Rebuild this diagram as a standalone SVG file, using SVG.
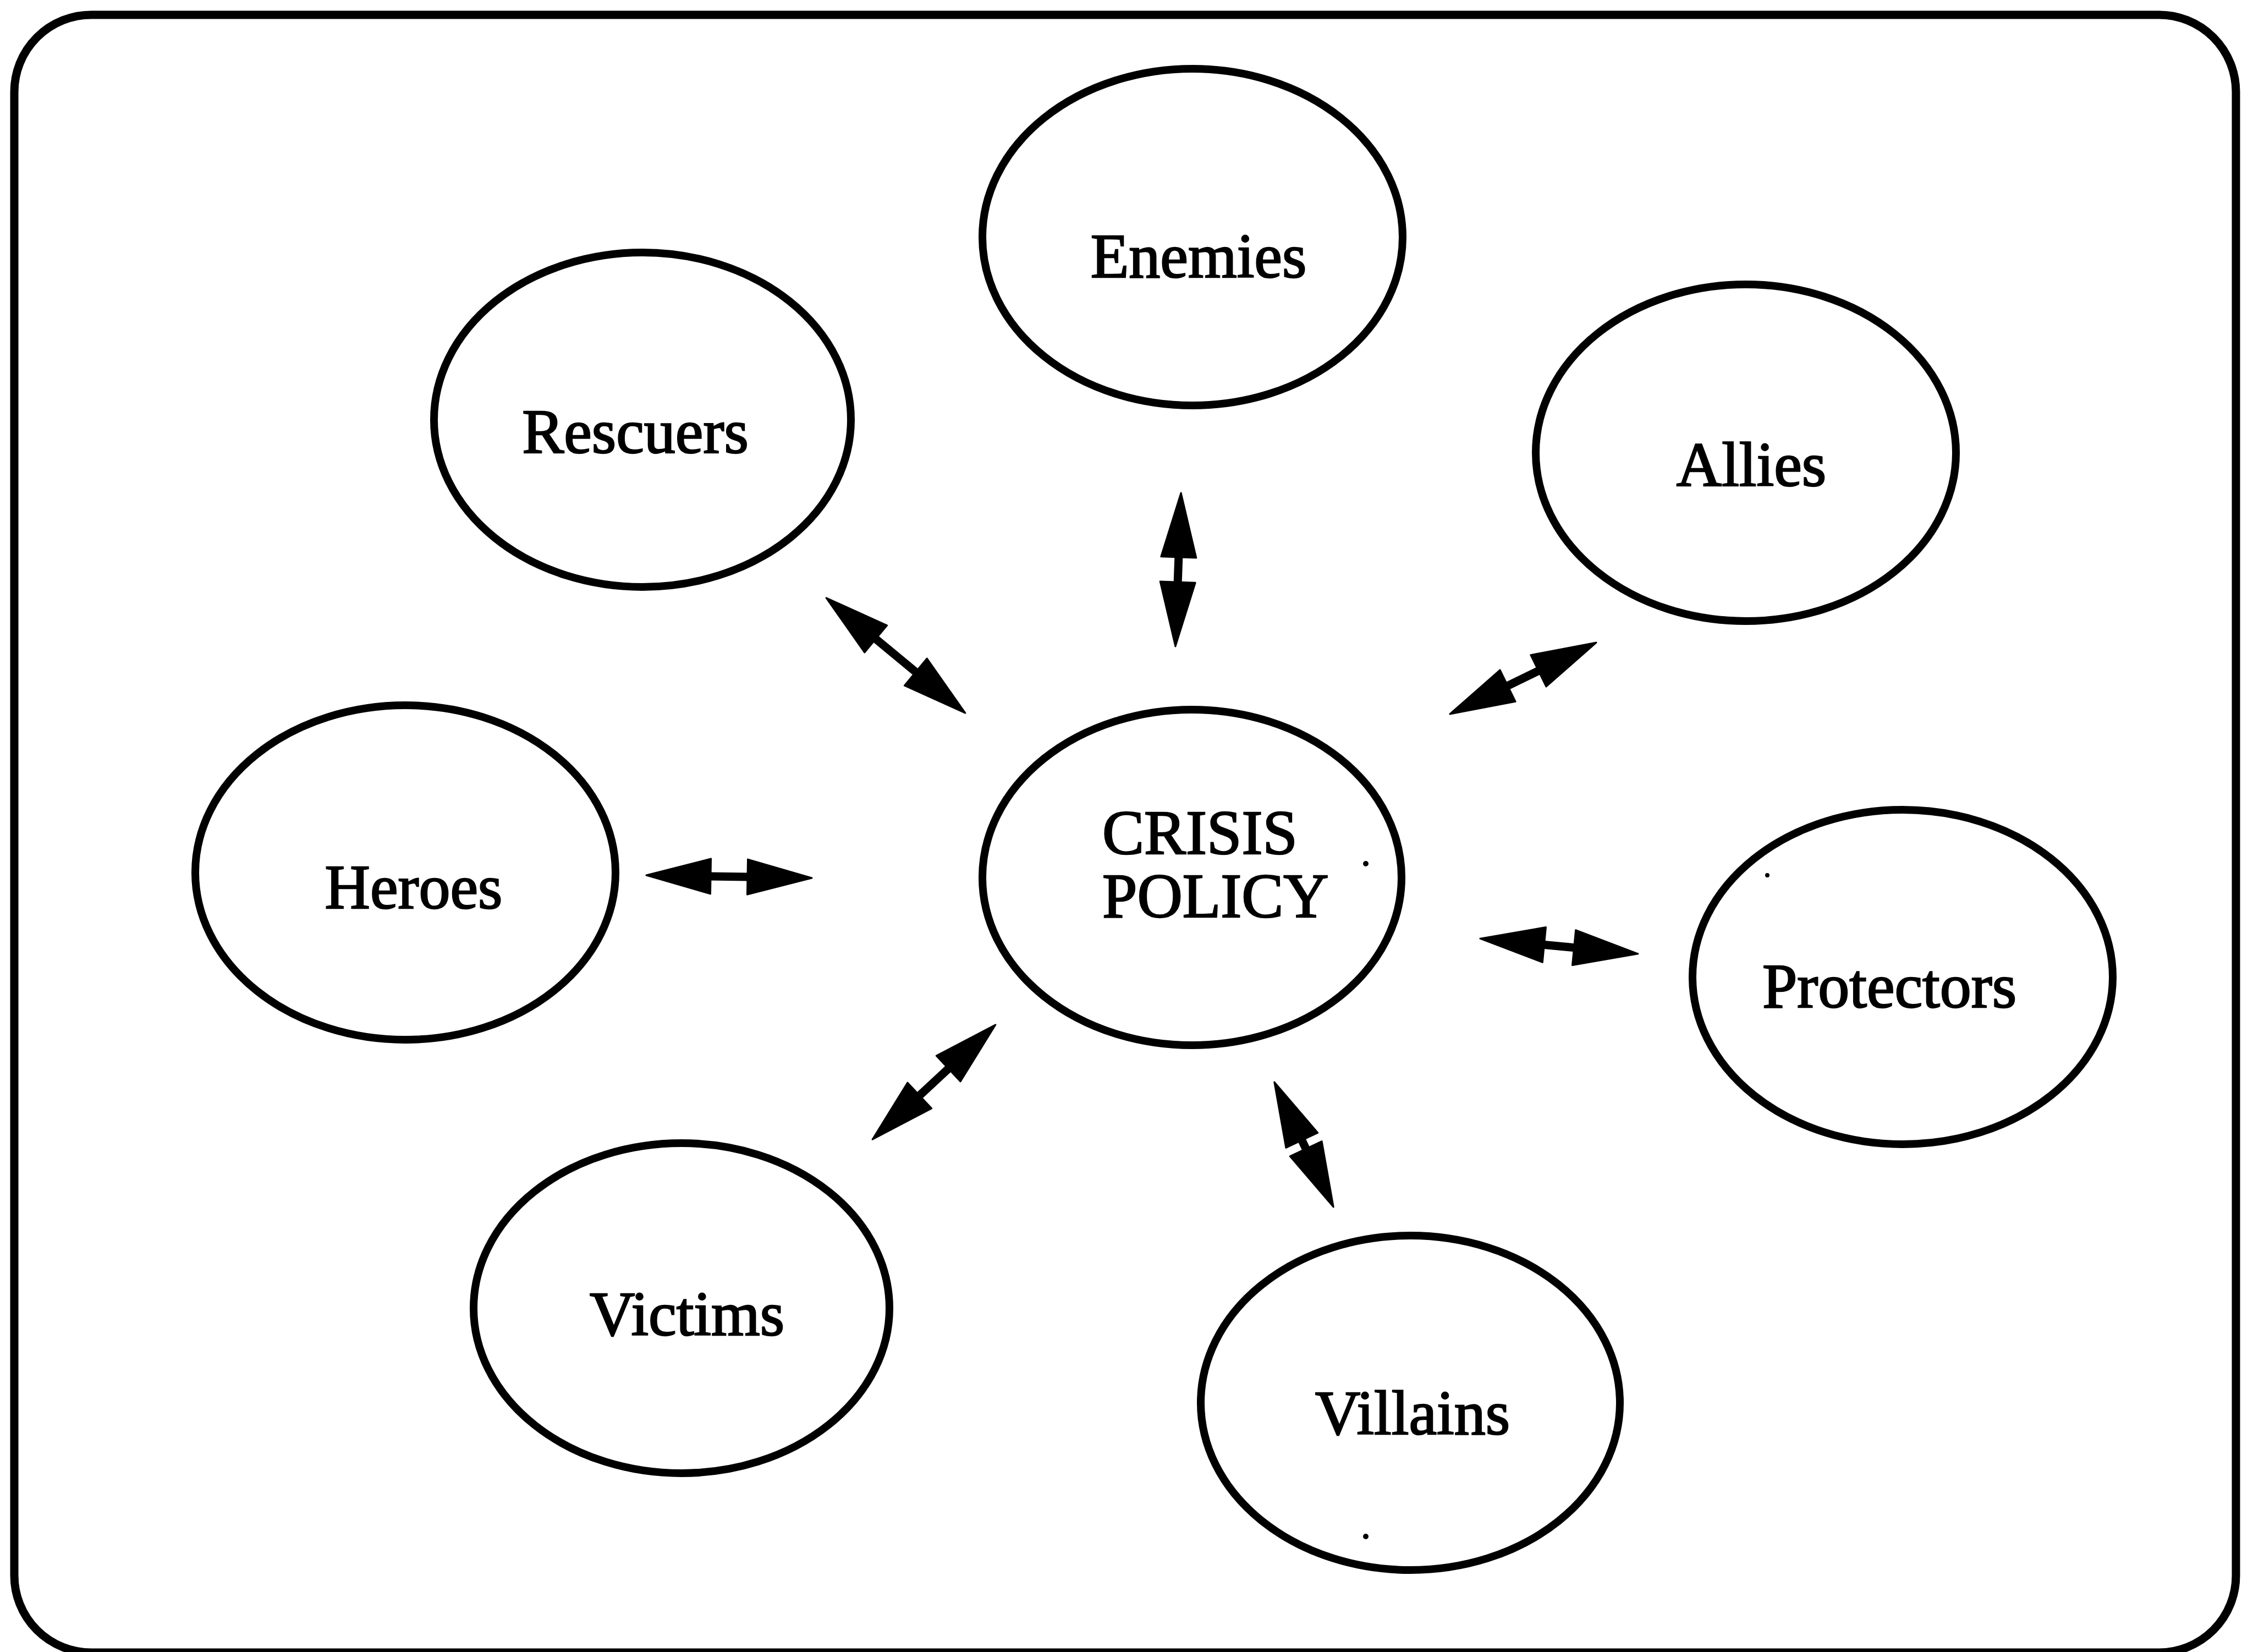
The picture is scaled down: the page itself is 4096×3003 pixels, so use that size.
<svg xmlns="http://www.w3.org/2000/svg" width="4096" height="3003" viewBox="0 0 4096 3003">
  <style>
    .frame { fill: none; stroke: #000; stroke-width: 15; }
    .node ellipse { fill: none; stroke: #000; stroke-width: 14; }
    .node text { font-family: "Liberation Serif", "Times New Roman", serif; font-size: 114px; fill: #000; stroke: #000; stroke-width: 2.5; text-anchor: middle; }
    .node text.left { text-anchor: start; }
    .link { stroke: #000; stroke-width: 15; fill: none; marker-start: url(#head); marker-end: url(#head); }
    .speck { fill: #000; }
  </style>
  <defs>
    <marker id="head" markerUnits="userSpaceOnUse" orient="auto-start-reverse" refX="0" refY="0" markerWidth="120" markerHeight="70" overflow="visible">
      <path d="M-2,-32 L115,0 L-2,32 Z" fill="#000" stroke="#000" stroke-width="3" stroke-linejoin="round"/>
    </marker>
  </defs>
  <rect width="4096" height="3003" fill="#fff"/>

  <!-- outer frame; its bottom edge runs along the lower border of the sheet -->
  <rect class="frame" x="26" y="27" width="4039" height="2977" rx="140" ry="140"/>

  <!-- nodes -->
  <g id="enemies" class="node">
    <ellipse cx="2168" cy="431" rx="382" ry="306"/>
    <text x="2179" y="504">Enemies</text>
  </g>
  <g id="rescuers" class="node">
    <ellipse cx="1168" cy="763" rx="379" ry="304"/>
    <text x="1155" y="823">Rescuers</text>
  </g>
  <g id="allies" class="node">
    <ellipse cx="3174" cy="823" rx="382" ry="306"/>
    <text x="3184" y="883">Allies</text>
  </g>
  <g id="heroes" class="node">
    <ellipse cx="737" cy="1586" rx="382" ry="304"/>
    <text x="752" y="1651">Heroes</text>
  </g>
  <g id="crisis-policy" class="node">
    <ellipse cx="2167" cy="1595" rx="381" ry="305"/>
    <text class="left" x="2004" y="1552">CRISIS</text>
    <text class="left" x="2004" y="1667">POLICY</text>
  </g>
  <g id="protectors" class="node">
    <ellipse cx="3459" cy="1776" rx="382" ry="304"/>
    <text x="3435" y="1831">Protectors</text>
  </g>
  <g id="victims" class="node">
    <ellipse cx="1239" cy="2378" rx="378" ry="300"/>
    <text x="1249" y="2427">Victims</text>
  </g>
  <g id="villains" class="node">
    <ellipse cx="2564" cy="2550" rx="381" ry="304"/>
    <text x="2568" y="2607">Villains</text>
  </g>

  <!-- stray specks -->
  <circle class="speck" cx="2483" cy="1570" r="5"/>
  <circle class="speck" cx="2483" cy="2793" r="5"/>
  <circle class="speck" cx="3213" cy="1591" r="4"/>

  <!-- connectors: double-headed arrows -->
  <g id="connectors">
    <line class="link" x1="2142.9" y1="1010.9" x2="2141.1" y2="1060.1"/>
    <line class="link" x1="1590.7" y1="1160.2" x2="1666.3" y2="1222.8"/>
    <line class="link" x1="2798.7" y1="1218.5" x2="2739.3" y2="1247.5"/>
    <line class="link" x1="1290" y1="1592.9" x2="1361" y2="1594.1"/>
    <line class="link" x1="2805.4" y1="1717.2" x2="2863.6" y2="1722.8"/>
    <line class="link" x1="1725.7" y1="1941.2" x2="1670.3" y2="1992.8"/>
    <line class="link" x1="2366" y1="2071" x2="2375" y2="2090"/>
  </g>
</svg>
